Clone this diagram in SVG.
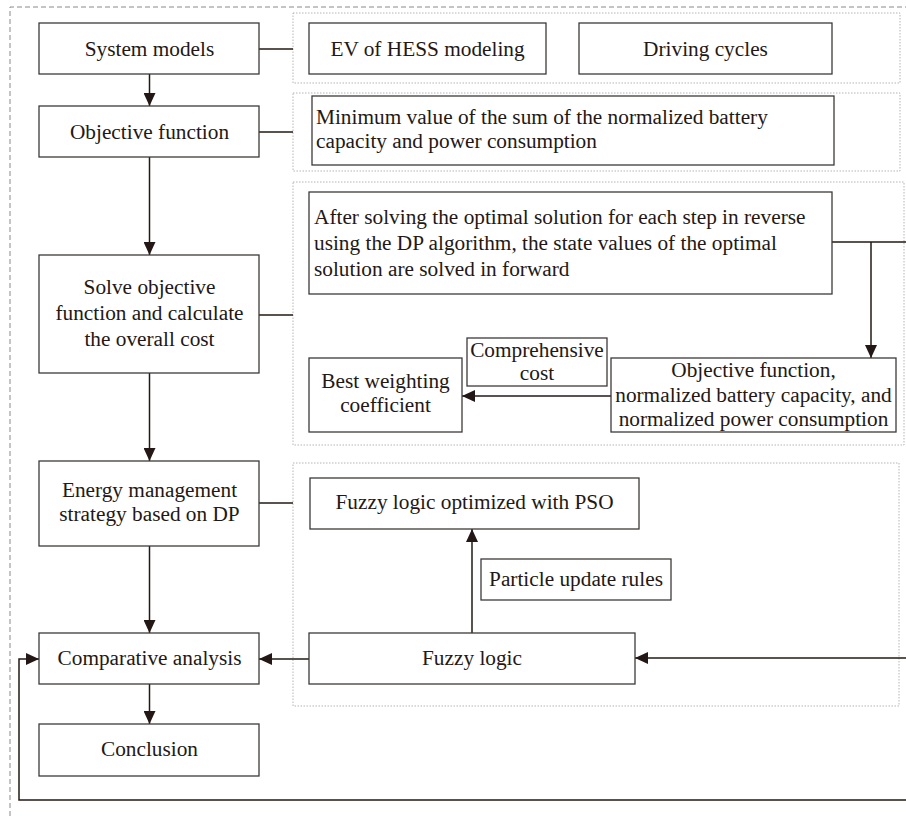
<svg xmlns="http://www.w3.org/2000/svg" width="906" height="816" viewBox="0 0 906 816">
<defs>
<marker id="ah" viewBox="0 0 13 12" refX="13" refY="6" markerWidth="13" markerHeight="12" markerUnits="userSpaceOnUse" orient="auto">
<path d="M0,0 L13,6 L0,12 Z" fill="#231815"/>
</marker>
<style>
.box{fill:#fff;stroke:#3e3a39;stroke-width:1.3}
.grp{fill:none;stroke:#b5b5b5;stroke-width:1;stroke-dasharray:1.5 1.5}
.outer{fill:none;stroke:#8a8a8a;stroke-width:1;stroke-dasharray:5 3}
.t{font-family:"Liberation Serif","Times New Roman",serif;font-size:21.3px;fill:#231815}
.c{text-anchor:middle}
.ln{fill:none;stroke:#231815;stroke-width:1.5}
.ar{fill:none;stroke:#231815;stroke-width:1.5;marker-end:url(#ah)}
</style>
</defs>
<rect width="906" height="816" fill="#fff"/>
<path class="outer" d="M10,816 V7 H906"/>
<g id="groups">
<rect class="grp" x="293" y="13" width="607" height="70"/>
<rect class="grp" x="293" y="93" width="607" height="78"/>
<rect class="grp" x="293" y="182" width="611" height="263"/>
<rect class="grp" x="293" y="463" width="606" height="243"/>
</g>
<g id="connectors">
<path class="ln" d="M259,49 H293"/>
<path class="ln" d="M259,132 H293"/>
<path class="ln" d="M259,315 H293"/>
<path class="ln" d="M259,503 H293"/>
<path class="ar" d="M149.5,74 V106"/>
<path class="ar" d="M149.5,157 V255"/>
<path class="ar" d="M149.5,373 V461"/>
<path class="ar" d="M149.5,546 V633"/>
<path class="ar" d="M149.5,684 V724"/>
<path class="ln" d="M832,242 H910"/>
<path class="ar" d="M871,242 V358"/>
<path class="ar" d="M611,396 H462"/>
<path class="ar" d="M472,633 V529"/>
<path class="ar" d="M309,659 H259"/>
<path class="ar" d="M910,658 H635"/>
<path class="ar" d="M910,800 H19 V659 H39"/>
</g>
<g id="system-models"><rect class="box" x="39" y="23" width="220" height="51"/><text class="t c" x="149.5" y="56">System models</text></g>
<g id="ev-hess"><rect class="box" x="309" y="23" width="237" height="51"/><text class="t c" x="427.5" y="56">EV of HESS modeling</text></g>
<g id="driving-cycles"><rect class="box" x="579" y="23" width="253" height="51"/><text class="t c" x="705.5" y="56">Driving cycles</text></g>
<g id="objective-function"><rect class="box" x="39" y="106" width="220" height="51"/><text class="t c" x="149.5" y="139">Objective function</text></g>
<g id="minimum-value"><rect class="box" x="312" y="96" width="522" height="69"/><text class="t" x="316" y="124">Minimum value of the sum of the normalized battery</text><text class="t" x="316" y="148">capacity and power consumption</text></g>
<g id="solve"><rect class="box" x="39" y="255" width="220" height="118"/><text class="t c" x="149.5" y="294">Solve objective</text><text class="t c" x="149.5" y="320">function and calculate</text><text class="t c" x="149.5" y="346">the overall cost</text></g>
<g id="after-solving"><rect class="box" x="309" y="192" width="523" height="102"/><text class="t" x="314" y="224">After solving the optimal solution for each step in reverse</text><text class="t" x="314" y="250">using the DP algorithm, the state values of the optimal</text><text class="t" x="314" y="276">solution are solved in forward</text></g>
<g id="best-weighting"><rect class="box" x="309" y="358" width="153" height="74"/><text class="t c" x="385.5" y="388">Best weighting</text><text class="t c" x="385.5" y="412">coefficient</text></g>
<g id="comprehensive-cost"><rect class="box" x="467" y="338" width="140" height="48"/><text class="t c" x="537" y="357">Comprehensive</text><text class="t c" x="537" y="380">cost</text></g>
<g id="objective-normalized"><rect class="box" x="611" y="358" width="285" height="74"/><text class="t c" x="753.5" y="377">Objective function,</text><text class="t c" x="753.5" y="402">normalized battery capacity, and</text><text class="t c" x="753.5" y="426">normalized power consumption</text></g>
<g id="energy-management"><rect class="box" x="39" y="461" width="220" height="85"/><text class="t c" x="149.5" y="497">Energy management</text><text class="t c" x="149.5" y="521">strategy based on DP</text></g>
<g id="fuzzy-pso"><rect class="box" x="310" y="478" width="329" height="51"/><text class="t c" x="474.5" y="509">Fuzzy logic optimized with PSO</text></g>
<g id="particle-update"><rect class="box" x="481" y="559" width="190" height="41"/><text class="t c" x="576" y="586">Particle update rules</text></g>
<g id="fuzzy-logic"><rect class="box" x="309" y="633" width="326" height="51"/><text class="t c" x="472" y="665">Fuzzy logic</text></g>
<g id="comparative"><rect class="box" x="39" y="633" width="220" height="51"/><text class="t c" x="149.5" y="665">Comparative analysis</text></g>
<g id="conclusion"><rect class="box" x="39" y="724" width="220" height="52"/><text class="t c" x="149.5" y="756">Conclusion</text></g>
</svg>
